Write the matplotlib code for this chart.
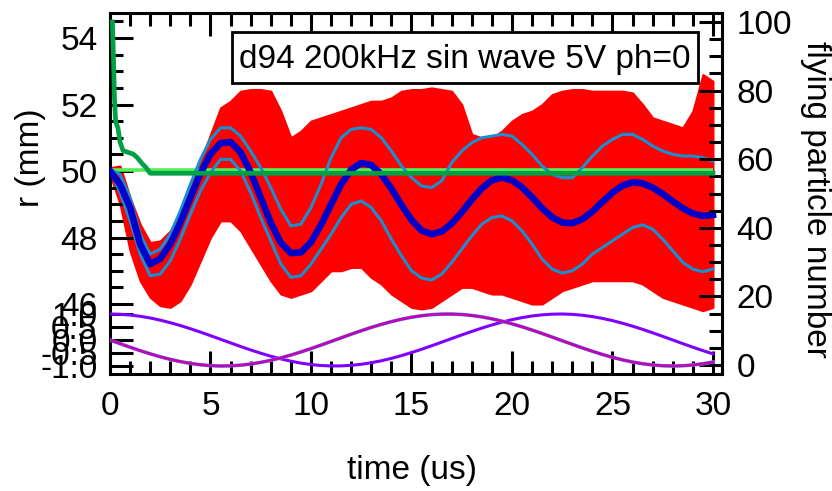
import numpy as np
import matplotlib
matplotlib.use('Agg')
import matplotlib.pyplot as plt
from matplotlib.ticker import FixedLocator, FixedFormatter, MultipleLocator
from matplotlib.patches import Rectangle

plt.rcParams['font.family'] = ['Liberation Sans', 'DejaVu Sans']
plt.rcParams['axes.unicode_minus'] = False

# ---------------- data ----------------
t_half = np.arange(0, 30.01, 0.5)   # sample times, us

r_mean = [50.00, 49.60, 48.90, 47.80, 47.20, 47.36, 47.80, 48.45, 49.20, 49.93,
          50.51, 50.84, 50.87, 50.56, 49.96, 49.20, 48.44, 47.84, 47.53, 47.55,
          47.86, 48.38, 49.00, 49.60, 50.04, 50.24, 50.18, 49.90, 49.47, 48.98,
          48.53, 48.21, 48.10, 48.18, 48.42, 48.76, 49.14, 49.48, 49.72, 49.80,
          49.72, 49.51, 49.21, 48.88, 48.61, 48.45, 48.43, 48.55, 48.78, 49.07,
          49.35, 49.56, 49.66, 49.63, 49.50, 49.31, 49.09, 48.88, 48.72, 48.65,
          48.68]

r_upper = [50.05, 49.90, 49.20, 48.10, 47.50, 47.65, 48.10, 48.80, 49.60, 50.35,
           50.95, 51.30, 51.30, 51.05, 50.60, 50.10, 49.50, 48.85, 48.35, 48.40,
           48.90, 49.60, 50.40, 51.00, 51.25, 51.30, 51.25, 51.00, 50.60, 50.15,
           49.80, 49.55, 49.50, 49.70, 50.25, 50.60, 50.85, 51.00, 51.05, 51.10,
           51.05, 50.80, 50.50, 50.15, 49.90, 49.80, 49.80, 50.10, 50.45, 50.75,
           50.95, 51.10, 51.10, 50.95, 50.75, 50.60, 50.50, 50.45, 50.45, 50.40,
           50.30]

r_lower = [50.00, 49.35, 48.50, 47.50, 46.85, 46.90, 47.30, 47.95, 48.70, 49.40,
           49.95, 50.35, 50.35, 50.00, 49.35, 48.60, 47.90, 47.20, 46.80, 46.85,
           47.20, 47.65, 48.10, 48.60, 49.00, 49.10, 48.90, 48.50, 47.95, 47.45,
           47.00, 46.78, 46.72, 46.90, 47.25, 47.65, 48.05, 48.40, 48.60, 48.65,
           48.50, 48.20, 47.80, 47.35, 47.05, 46.93, 47.00, 47.20, 47.50, 47.70,
           47.90, 48.10, 48.30, 48.38, 48.25, 47.95, 47.60, 47.25, 47.05, 46.97,
           47.05]

red_hi = [50.10, 50.15, 49.20, 48.40, 47.85, 47.90, 48.20, 48.80, 49.60, 50.30,
          51.10, 51.90, 52.10, 52.40, 52.45, 52.45, 52.40, 51.80, 51.00, 51.20,
          51.50, 51.60, 51.70, 51.80, 51.90, 52.00, 52.10, 52.10, 52.20, 52.40,
          52.45, 52.45, 52.50, 52.45, 52.40, 52.00, 51.10, 51.00, 51.00, 51.20,
          51.50, 51.70, 51.80, 52.00, 52.30, 52.40, 52.45, 52.45, 52.40, 52.40,
          52.40, 52.40, 52.35, 52.00, 51.60, 51.50, 51.40, 51.30, 51.80, 52.90,
          52.70]

red_lo = [49.90, 49.00, 47.60, 46.70, 46.20, 45.95, 45.90, 46.10, 46.60, 47.30,
          48.00, 48.50, 48.50, 48.20, 47.70, 47.20, 46.70, 46.30, 46.20, 46.30,
          46.40, 46.70, 47.00, 47.00, 47.10, 47.10, 46.80, 46.60, 46.30, 46.10,
          45.90, 45.85, 45.90, 46.10, 46.30, 46.50, 46.50, 46.40, 46.30, 46.30,
          46.20, 46.10, 46.00, 46.00, 46.20, 46.40, 46.50, 46.60, 46.70, 46.70,
          46.70, 46.70, 46.70, 46.60, 46.40, 46.20, 46.10, 46.00, 45.90, 45.80,
          45.90]

r_init_t = [0.1, 30.0]
r_init = [50.04, 50.04]

n_t = [0.12, 0.17, 0.22, 0.28, 0.40, 0.50, 0.65, 0.90, 1.15, 1.35, 1.60, 1.80, 2.00, 30.0]
n_fly = [100, 90, 78, 71, 69, 65, 62.5, 62, 61.5, 60.5, 58.7, 57.5, 55.9, 55.9]

sin_a = [1.000, 0.990, 0.961, 0.913, 0.847, 0.764, 0.666, 0.556, 0.434, 0.304,
         0.167, 0.028, -0.112, -0.250, -0.383, -0.508, -0.623, -0.727, -0.815, -0.889,
         -0.944, -0.981, -0.998, -0.996, -0.975, -0.934, -0.875, -0.799, -0.707, -0.601,
         -0.484, -0.357, -0.223, -0.084, 0.056, 0.195, 0.330, 0.459, 0.579, 0.687,
         0.782, 0.861, 0.924, 0.968, 0.994, 1.000, 0.986, 0.953, 0.901, 0.831,
         0.746, 0.645, 0.532, 0.409, 0.277, 0.140, 0.000, -0.140, -0.277, -0.409,
         -0.532]
sin_b = [0.000, -0.140, -0.277, -0.409, -0.532, -0.645, -0.746, -0.831, -0.901, -0.953,
         -0.986, -1.000, -0.994, -0.968, -0.924, -0.861, -0.782, -0.687, -0.579, -0.459,
         -0.330, -0.195, -0.056, 0.084, 0.223, 0.357, 0.484, 0.601, 0.707, 0.799,
         0.875, 0.934, 0.975, 0.996, 0.998, 0.981, 0.944, 0.889, 0.815, 0.727,
         0.623, 0.508, 0.383, 0.250, 0.112, -0.028, -0.167, -0.304, -0.434, -0.556,
         -0.666, -0.764, -0.847, -0.913, -0.961, -0.990, -1.000, -0.990, -0.961, -0.913,
         -0.847]

r_ticks = [46, 48, 50, 52, 54]
n_ticks = [0, 20, 40, 60, 80, 100]
s_ticks = [-1.0, -0.5, 0.0, 0.5, 1.0]
s_ticklabels = ['-1.0', '-0.5', '0.0', '0.5', '1.0']
title_text = 'd94 200kHz sin wave 5V ph=0'

# ---------------- figure ----------------
W, H = 832, 491
fig = plt.figure(figsize=(W / 100, H / 100), dpi=100)
L, R, T, B = 110, 722, 13, 374
rect = [L / W, 1 - B / H, (R - L) / W, (B - T) / H]

ax = fig.add_axes(rect)
ax.set_xlim(0, 30.45)
ax.set_ylim(43.895, 54.752)

axn = ax.twinx()
axn.set_ylim(-2.62, 102.62)

axs = fig.add_axes(rect, sharex=ax)
axs.set_ylim(-1.308, 12.58)
axs.patch.set_visible(False)
for s in axs.spines.values():
    s.set_visible(False)
axs.xaxis.set_visible(False)

# red particle trajectories (band)
ax.fill_between(t_half, red_lo, red_hi, color='#FF0000', lw=1.5, edgecolor='#FF0000', zorder=1)
ax.plot(r_init_t, r_init, color='#55EE55', lw=2.6, zorder=3, solid_capstyle='butt')
ax.plot(t_half, r_upper, color='#1A8FD0', lw=2.2, zorder=4)
ax.plot(t_half, r_lower, color='#1A8FD0', lw=2.2, zorder=4)
ax.plot(t_half, r_mean, color='#0000C8', lw=4.8, zorder=5)

axn.plot(n_t, n_fly, color='#00A045', lw=3.4, zorder=3)

axs.plot(t_half, sin_a, color='#7F00FF', lw=2.2)
axs.plot(t_half, sin_b, color='#4A9CFF', lw=2.6)
axs.plot(t_half, sin_b, color='#C400B0', lw=2.0)

# ---------------- axes styling ----------------
lw_sp = 2.2
for name in ['left', 'top', 'bottom']:
    ax.spines[name].set_linewidth(lw_sp)
ax.spines['right'].set_visible(False)
for name in ['left', 'top', 'bottom']:
    axn.spines[name].set_visible(False)
axn.spines['right'].set_linewidth(lw_sp)

ax.xaxis.set_major_locator(MultipleLocator(5))
ax.xaxis.set_minor_locator(MultipleLocator(1))
ax.yaxis.set_major_locator(FixedLocator(r_ticks))
ax.yaxis.set_minor_locator(FixedLocator(np.arange(46, 54.51, 0.5)))
ax.tick_params(which='major', direction='in', length=16.5, width=lw_sp, labelsize=24)
ax.tick_params(which='minor', direction='in', length=9.4, width=lw_sp)
ax.tick_params(axis='x', which='both', top=True, bottom=True)
ax.tick_params(axis='x', which='major', pad=12.5)
ax.tick_params(axis='y', which='both', right=False)
ax.tick_params(axis='y', which='major', pad=9)

axn.yaxis.set_major_locator(FixedLocator(n_ticks))
axn.yaxis.set_minor_locator(FixedLocator(np.arange(0, 101, 5)))
axn.tick_params(which='major', direction='in', length=16.5, width=lw_sp, labelsize=24, pad=10.5)
axn.tick_params(which='minor', direction='in', length=9.4, width=lw_sp)

axs.yaxis.set_major_locator(FixedLocator(s_ticks))
axs.yaxis.set_major_formatter(FixedFormatter(s_ticklabels))
axs.tick_params(axis='y', which='major', direction='in', length=16.5, width=lw_sp,
                labelsize=24, pad=9, left=True, right=False)

# labels
fig.text(31 / W, 1 - 158 / H, 'r (mm)', rotation=90, ha='center', va='center', fontsize=24)
fig.text(816 / W, 1 - 199 / H, 'flying particle number', rotation=270, ha='center', va='center', fontsize=24)
fig.text(412 / W, 1 - 470 / H, 'time (us)', ha='center', va='center', fontsize=24)

# annotation box
fig.patches.append(Rectangle((232 / W, 1 - 83 / H), 466 / W, 51 / H, transform=fig.transFigure,
                             facecolor='white', edgecolor='black', lw=2.0, zorder=10))
fig.text(465 / W, 1 - 68 / H, title_text, ha='center', va='baseline', fontsize=24, zorder=11)

fig.savefig('out.png', dpi=100)
